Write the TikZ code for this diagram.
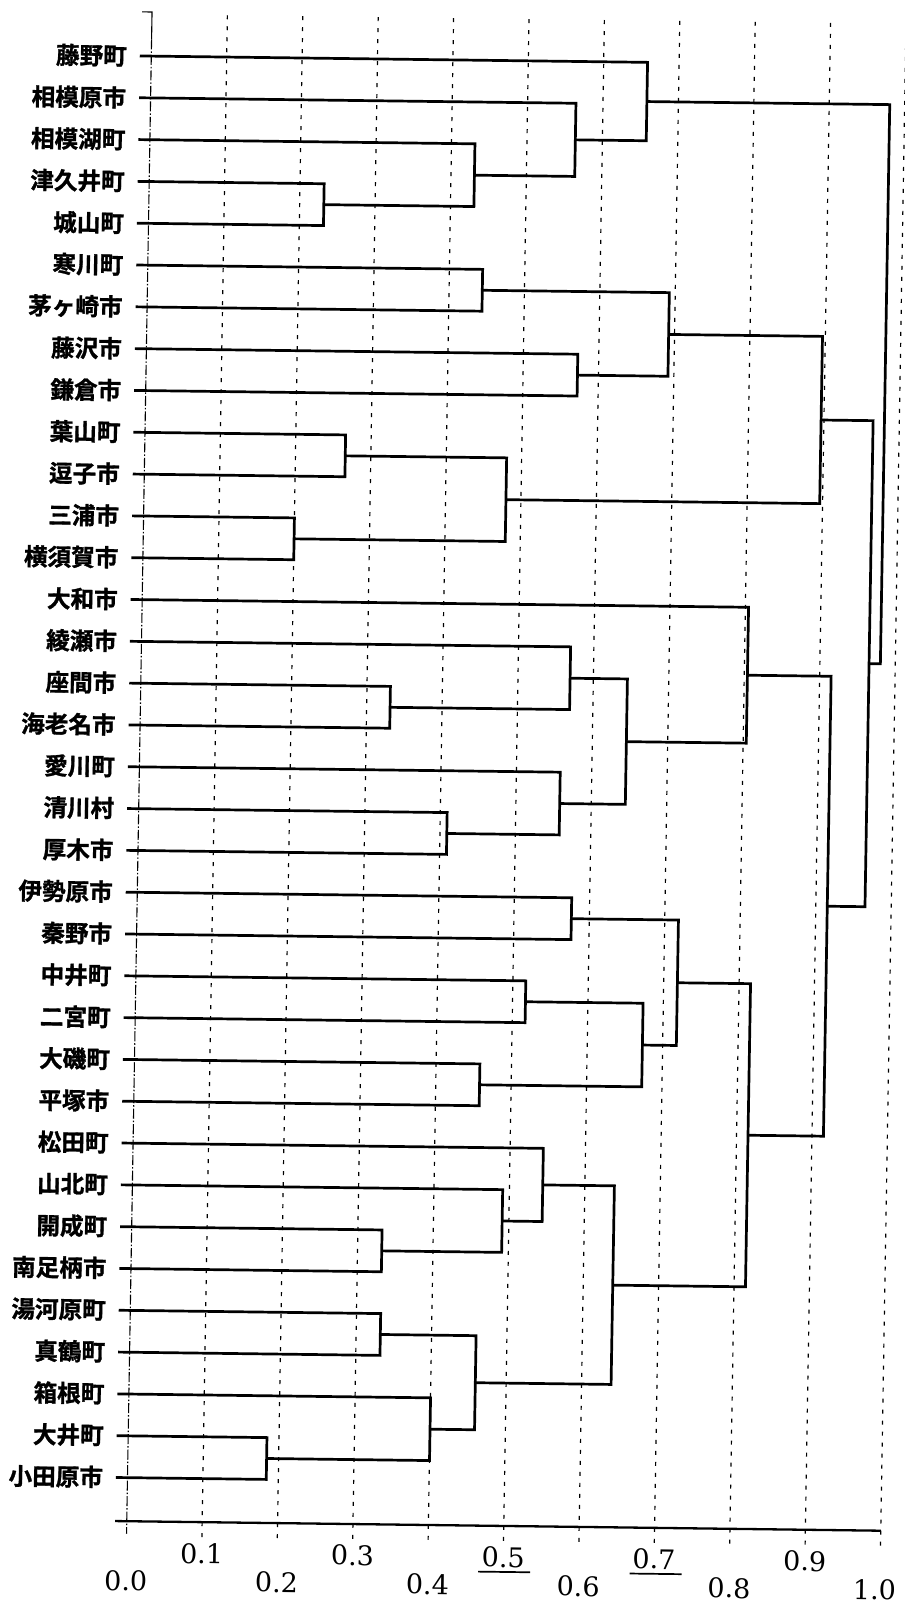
\documentclass[tikz,border=0pt]{standalone}
\usepackage{fontspec}
\newfontfamily\jpfont[FakeBold=1.2]{Noto Sans CJK JP Bold}
\newfontfamily\numfont{DejaVu Serif}
\newcommand\mrg[6]{%
  \coordinate (#1) at (#4,{(#5+#6)/2});
  \coordinate (#1-a) at (#4,#5);
  \coordinate (#1-b) at (#4,#6);
  \draw[dline] (#2) -- (#1-a) -- (#1-b) -- (#3);
}
\begin{document}
\begin{tikzpicture}[
  x=1pt,y=1pt,
  dline/.style={line width=2.7pt, line join=miter, line cap=butt},
  gridline/.style={line width=1.2pt, dash pattern=on 4pt off 7pt},
  zeroline/.style={line width=1.1pt, dash pattern=on 10pt off 2pt on 1.5pt off 2pt},
  axisline/.style={line width=2.3pt},
  lab/.style={anchor=east, inner sep=0pt, rotate=-0.8, font=\jpfont\fontsize{23.6}{24}\selectfont},
  ticklab/.style={inner sep=0pt, rotate=-0.8, font=\numfont\fontsize{27}{28}\selectfont},
  uline/.style={line width=1.7pt}
]
\path[fill=white] (0,0) rectangle (905,-1604);
\useasboundingbox (0,0) rectangle (905,-1604);
\begin{scope}[x=754pt,y=41.8pt,cm={1,-0.0126,-0.01675,-1,(151.3pt,-56.1pt)}]
  % grid
  \foreach \k in {1,...,10} \draw[gridline] ({\k/10},-1) -- ({\k/10},35.45);
  \draw[line width=1.1pt] (-0.0133,-1.055) -- (0,-1.055) -- (0,-0.4);
  \draw[zeroline] (0,-0.4) -- (0,35.35);
  % axis
  \draw[axisline] (-0.0153,35.05) -- (1,35.05);
  % leaves
  \foreach \i/\n in {0/藤野町,1/相模原市,2/相模湖町,3/津久井町,4/城山町,5/寒川町,6/茅ヶ崎市,7/藤沢市,8/鎌倉市,9/葉山町,10/逗子市,11/三浦市,12/横須賀市,13/大和市,14/綾瀬市,15/座間市,16/海老名市,17/愛川町,18/清川村,19/厚木市,20/伊勢原市,21/秦野市,22/中井町,23/二宮町,24/大磯町,25/平塚市,26/松田町,27/山北町,28/開成町,29/南足柄市,30/湯河原町,31/真鶴町,32/箱根町,33/大井町,34/小田原市}{
    \node[lab] (n\i) at (-0.0322,\i) {\n};
    \coordinate (l\i) at (-0.0153,\i);
  }
  % merges
  \mrg{a1}{l3}{l4}{0.232}{3}{4}
  \mrg{a2}{l2}{a1}{0.431}{2}{3.5}
  \mrg{a3}{l1}{a2}{0.564}{1}{2.75}
  \mrg{a4}{l0}{a3}{0.658}{0}{1.875}
  \mrg{b1}{l5}{l6}{0.444}{5}{6}
  \mrg{b2}{l7}{l8}{0.572}{7}{8}
  \mrg{b3}{b1}{b2}{0.692}{5.5}{7.5}
  \mrg{b4}{l9}{l10}{0.266}{9}{10}
  \mrg{b5}{l11}{l12}{0.200}{11}{12}
  \mrg{b6}{b4}{b5}{0.480}{9.5}{11.5}
  \mrg{b7}{b3}{b6}{0.896}{6.5}{10.5}
  \mrg{c1}{l15}{l16}{0.331}{15}{16}
  \mrg{c2}{l14}{c1}{0.569}{14}{15.5}
  \mrg{c3}{l18}{l19}{0.409}{18}{19}
  \mrg{c4}{l17}{c3}{0.558}{17}{18.5}
  \mrg{c5}{c2}{c4}{0.645}{14.75}{17.75}
  \mrg{c6}{l13}{c5}{0.804}{13}{16.25}
  \mrg{d1}{l20}{l21}{0.576}{20}{21}
  \mrg{d2}{l22}{l23}{0.517}{22}{23}
  \mrg{d3}{l24}{l25}{0.458}{24}{25}
  \mrg{d4}{d2}{d3}{0.673}{22.5}{24.5}
  \mrg{d5}{d1}{d4}{0.718}{20.5}{23.5}
  \mrg{d6}{l28}{l29}{0.332}{28}{29}
  \mrg{d7}{l27}{d6}{0.491}{27}{28.5}
  \mrg{d8}{l26}{d7}{0.544}{26}{27.75}
  \mrg{d9}{l30}{l31}{0.332}{30}{31}
  \mrg{d10}{l33}{l34}{0.184}{33}{34}
  \mrg{d11}{l32}{d10}{0.400}{32}{33.5}
  \mrg{d12}{d9}{d11}{0.459}{30.5}{32.75}
  \mrg{d13}{d8}{d12}{0.639}{26.875}{31.625}
  \mrg{d14}{d5}{d13}{0.815}{22}{29.25}
  \mrg{e1}{c6}{d14}{0.915}{14.625}{25.625}
  \mrg{e2}{b7}{e1}{0.965}{8.5}{20.125}
  \mrg{e3}{a4}{e2}{0.980}{0.9375}{14.3125}
  % tick labels
  \node[ticklab] (t0) at (0,36.47) {0.0};
  \node[ticklab] (t1) at (0.1,35.8) {0.1};
  \node[ticklab] (t2) at (0.2,36.47) {0.2};
  \node[ticklab] (t3) at (0.3,35.8) {0.3};
  \node[ticklab] (t4) at (0.4,36.47) {0.4};
  \node[ticklab] (t5) at (0.5,35.8) {0.5};
  \node[ticklab] (t6) at (0.6,36.47) {0.6};
  \node[ticklab] (t7) at (0.7,35.8) {0.7};
  \node[ticklab] (t8) at (0.8,36.47) {0.8};
  \node[ticklab] (t9) at (0.9,35.8) {0.9};
  \node[ticklab] (t10) at (0.993,36.47) {1.0};
  \draw[uline] (0.467,36.15) -- (0.536,36.15);
  \draw[uline] (0.668,36.15) -- (0.737,36.15);
\end{scope}
\end{tikzpicture}
\end{document}
